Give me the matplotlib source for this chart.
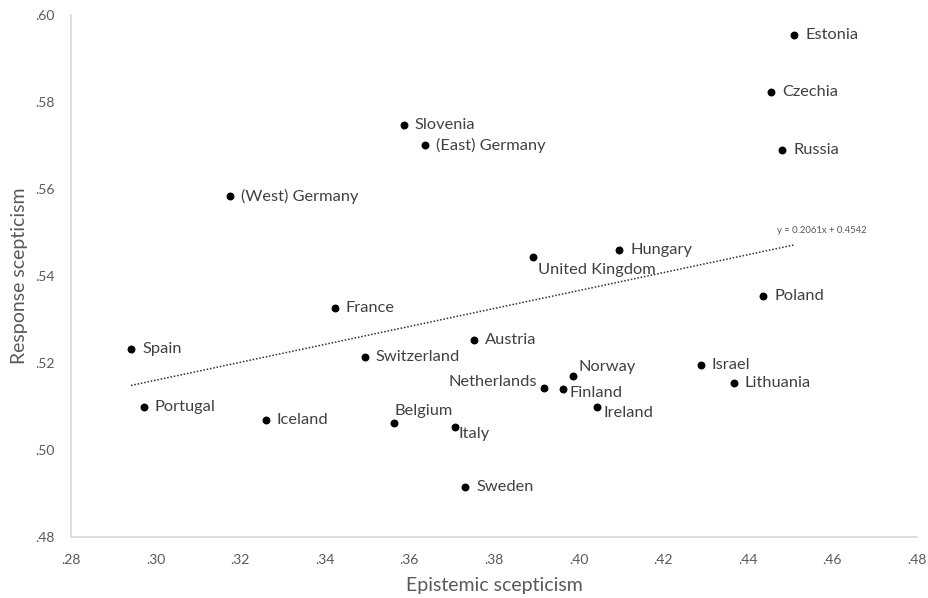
import matplotlib
matplotlib.use("Agg")
import matplotlib.pyplot as plt
import numpy as np

plt.rcParams['font.family'] = ['Lato', 'DejaVu Sans']

# Data
countries = ['Estonia', 'Czechia', 'Russia', 'Slovenia', '(East) Germany', '(West) Germany',
             'Hungary', 'United Kingdom', 'Poland', 'France', 'Spain', 'Austria',
             'Switzerland', 'Israel', 'Lithuania', 'Norway', 'Netherlands', 'Finland',
             'Ireland', 'Portugal', 'Iceland', 'Belgium', 'Italy', 'Sweden']
epistemic = [0.4510, 0.4455, 0.4482, 0.3587, 0.3637, 0.3176,
             0.4096, 0.3893, 0.4437, 0.3424, 0.2942, 0.3753,
             0.3495, 0.4289, 0.4367, 0.3987, 0.3919, 0.3964,
             0.4044, 0.2972, 0.3261, 0.3563, 0.3707, 0.3732]
response = [0.5955, 0.5822, 0.5689, 0.5748, 0.5700, 0.5583,
            0.5459, 0.5443, 0.5354, 0.5327, 0.5231, 0.5253,
            0.5214, 0.5195, 0.5153, 0.5169, 0.5142, 0.5140,
            0.5098, 0.5098, 0.5068, 0.5063, 0.5054, 0.4914]

slope = 0.2061
intercept = 0.4542

x_ticks = [0.28, 0.30, 0.32, 0.34, 0.36, 0.38, 0.40, 0.42, 0.44, 0.46, 0.48]
y_ticks = [0.48, 0.50, 0.52, 0.54, 0.56, 0.58, 0.60]

# label placement (offset in pixels, alignment)
default_pos = ((11, 0), 'left', 'center')
special_pos = {
    'United Kingdom': ((5, -13), 'left', 'center'),
    'Norway': ((5, 9), 'left', 'center'),
    'Netherlands': ((-7, 6), 'right', 'center'),
    'Finland': ((6, -4), 'left', 'center'),
    'Ireland': ((6, -6), 'left', 'center'),
    'Italy': ((4, -7), 'left', 'center'),
    'Belgium': ((1, 12), 'left', 'center'),
}

fig = plt.figure(figsize=(9.29, 5.98), dpi=100)
ax = fig.add_axes([0.0764, 0.102, 0.9106, 0.873])

ax.scatter(epistemic, response, s=22, color='black', zorder=3)

for name, xv, yv in zip(countries, epistemic, response):
    off, ha, va = special_pos.get(name, default_pos)
    ax.annotate(name, (xv, yv), xytext=off, textcoords='offset pixels',
                ha=ha, va=va, fontsize=11.8, color='#404040')

# linear trendline
xl = np.array([min(epistemic), max(epistemic)])
ax.plot(xl, slope * xl + intercept, linestyle=(0, (1, 1.2)), color='#303030', linewidth=1.1)
ax.text(0.4469, 0.5505, 'y = 0.2061x + 0.4542', fontsize=6.8, color='#595959',
        ha='left', va='center')

ax.set_xlim(0.28, 0.48)
ax.set_ylim(0.48, 0.60)
ax.set_xticks(x_ticks)
ax.set_yticks(y_ticks)
ax.set_xticklabels([('%.2f' % t)[1:] for t in x_ticks])
ax.set_yticklabels([('%.2f' % t)[1:] for t in y_ticks])
ax.tick_params(length=0, labelsize=10, labelcolor='#595959', pad=12)

for s in ['top', 'right']:
    ax.spines[s].set_visible(False)
for s in ['left', 'bottom']:
    ax.spines[s].set_color('#d9d9d9')
    ax.spines[s].set_linewidth(1.2)

ax.set_xlabel('Epistemic scepticism', fontsize=14, color='#595959', labelpad=8)
ax.set_ylabel('Response scepticism', fontsize=14, color='#595959', labelpad=5)

fig.savefig('out.png', dpi=100)
